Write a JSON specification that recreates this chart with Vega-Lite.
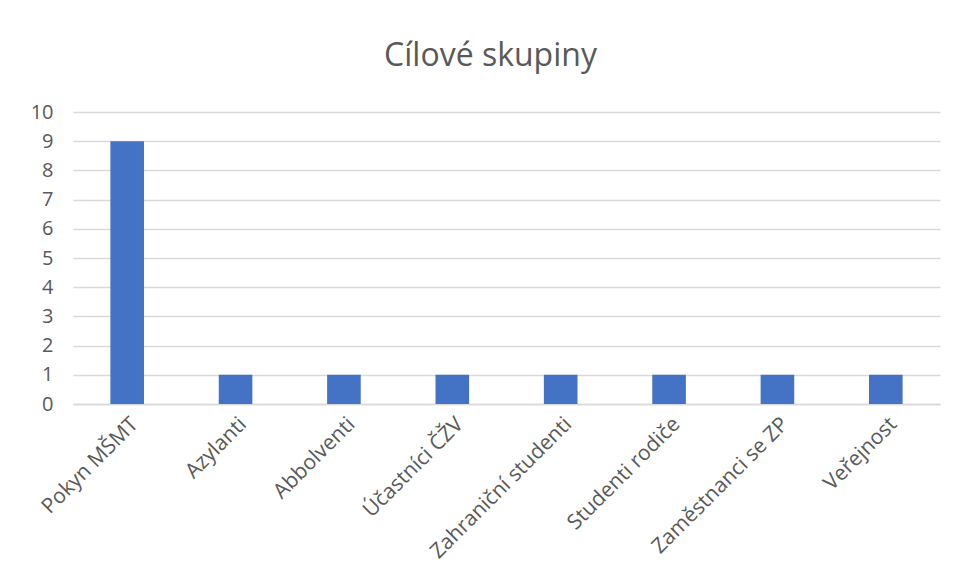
{
  "$schema": "https://vega.github.io/schema/vega-lite/v6.json",
  "autosize": "none",
  "width": 867,
  "height": 292,
  "padding": {"left": 73, "top": 112, "right": 17, "bottom": 177},
  "background": "white",
  "title": {
    "text": "Cílové skupiny",
    "fontSize": 32,
    "font": "Open Sans",
    "fontWeight": "normal",
    "color": "#595959",
    "anchor": "middle",
    "dx": -16,
    "offset": 29
  },
  "data": {
    "values": [
      {"skupina": "Pokyn MŠMT", "pocet": 9},
      {"skupina": "Azylanti", "pocet": 1},
      {"skupina": "Abbolventi", "pocet": 1},
      {"skupina": "Účastníci ČŽV", "pocet": 1},
      {"skupina": "Zahraniční studenti", "pocet": 1},
      {"skupina": "Studenti rodiče", "pocet": 1},
      {"skupina": "Zaměstnanci se ZP", "pocet": 1},
      {"skupina": "Veřejnost", "pocet": 1}
    ]
  },
  "mark": {"type": "bar", "color": "#4472C4"},
  "encoding": {
    "x": {
      "field": "skupina",
      "type": "nominal",
      "sort": null,
      "title": null,
      "scale": {"paddingInner": 0.69, "paddingOuter": 0.345},
      "axis": {
        "labelAngle": -45,
        "labelFontSize": 21,
        "labelFont": "Open Sans",
        "labelColor": "#595959",
        "labelPadding": 9,
        "labelLimit": 300,
        "ticks": false,
        "domainColor": "#D9D9D9",
        "domainWidth": 1.5,
        "grid": false
      }
    },
    "y": {
      "field": "pocet",
      "type": "quantitative",
      "title": null,
      "scale": {"domain": [0, 10]},
      "axis": {
        "values": [0, 1, 2, 3, 4, 5, 6, 7, 8, 9, 10],
        "labelFontSize": 20,
        "labelFont": "Open Sans",
        "labelColor": "#595959",
        "labelPadding": 20,
        "ticks": false,
        "domain": false,
        "gridColor": "#D9D9D9",
        "gridWidth": 1.5
      }
    }
  },
  "config": {"view": {"stroke": null}}
}
